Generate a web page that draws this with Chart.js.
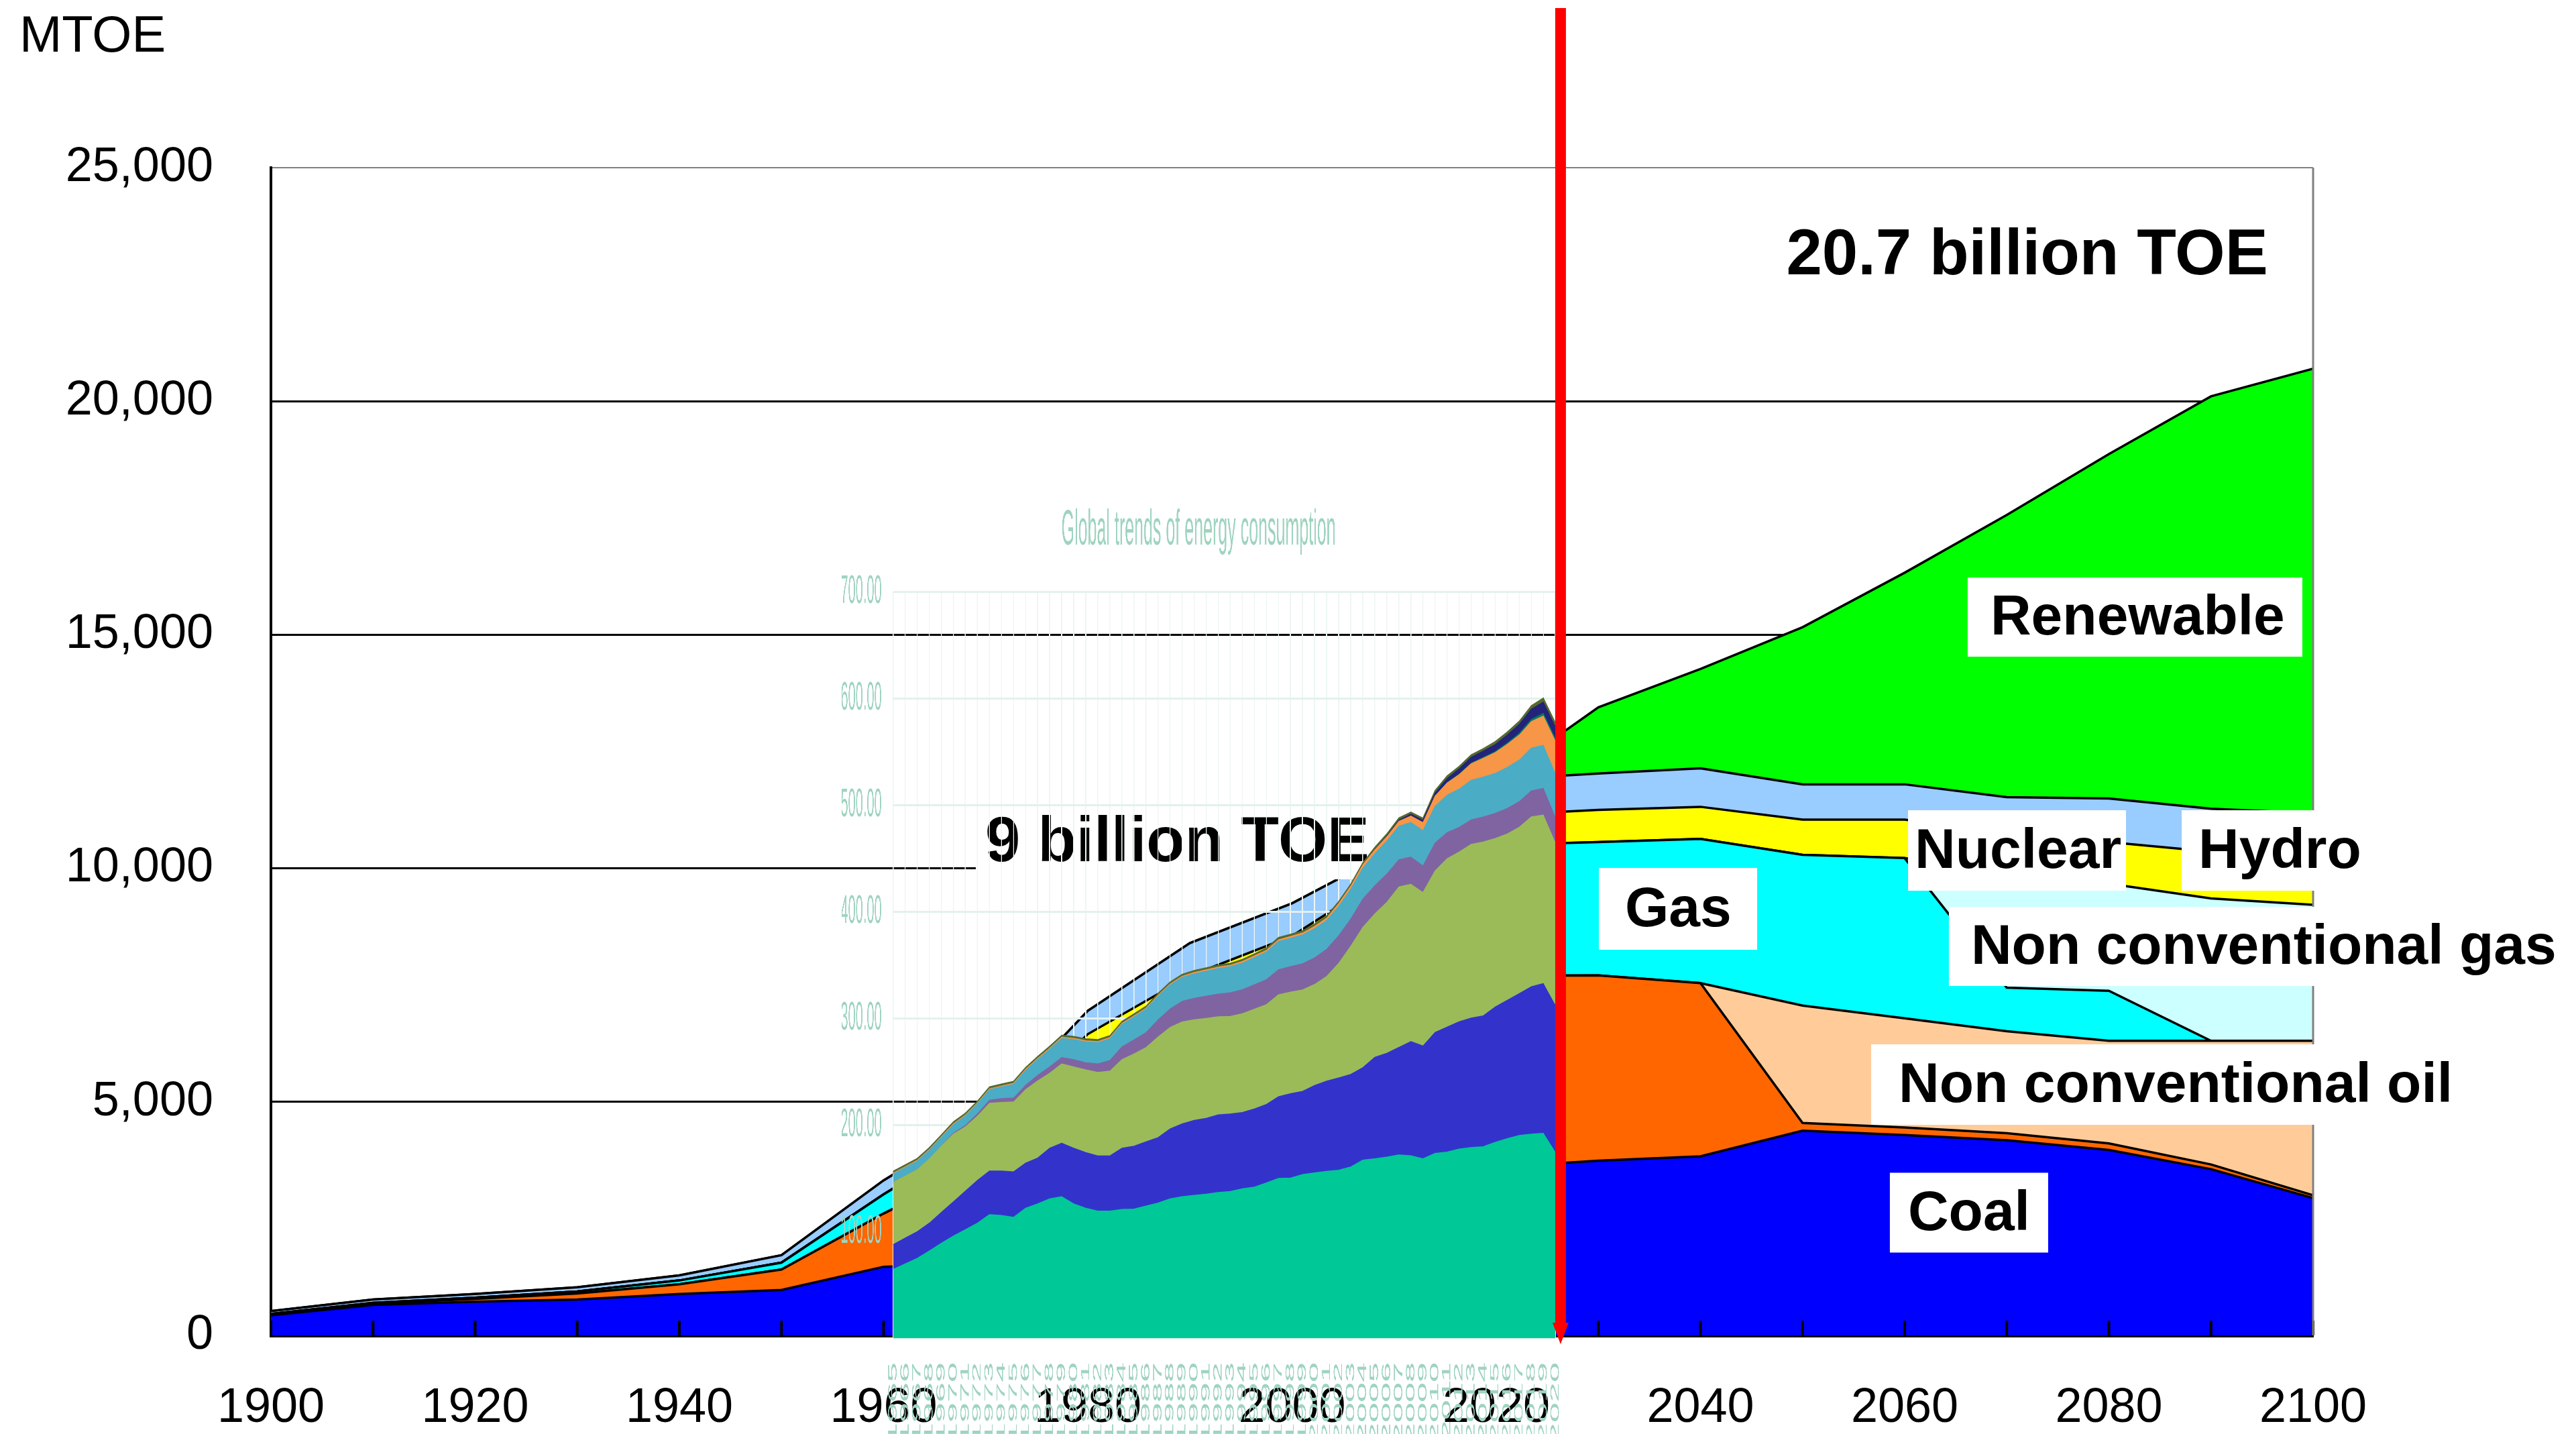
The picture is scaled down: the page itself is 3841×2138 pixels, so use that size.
<!DOCTYPE html>
<html>
<head>
<meta charset="utf-8">
<script src="https://cdn.jsdelivr.net/npm/chart.js@4.4.1/dist/chart.umd.min.js"></script>
<style>
  html, body { margin: 0; padding: 0; background: #fff; overflow: hidden; }
  #page { position: relative; width: 3841px; height: 2138px; overflow: hidden; }
  #mainBox { position: absolute; left: 0; top: 0; width: 3841px; height: 2138px; z-index: 1; }
  #insetBox { position: absolute; left: 1255.4px; top: 700px; width: 1103.2px; height: 480px;
              transform: scaleY(3); transform-origin: 0 0; z-index: 2; }
  #marker { position: absolute; left: 0; top: 0; z-index: 3; pointer-events: none; }
</style>
</head>
<body>
<div id="page">
  <div id="mainBox"><canvas id="mainChart"></canvas></div>
  <div id="insetBox"><canvas id="insetChart"></canvas></div>
  <svg id="marker" width="3841" height="2138"><polygon id="redArrow" fill="#ff0000"></polygon></svg>
</div>
<script>
const FONT = "'Liberation Sans', Arial, Helvetica, sans-serif";

// ---- main chart, MTOE ----
const years = [1900, 1910, 1920, 1930, 1940, 1950, 1960, 1970, 1980, 1990, 2000, 2010, 2020,
  2030, 2040, 2050, 2060, 2070, 2080, 2090, 2100];
const coal = [430, 652, 722, 769, 886, 973, 1470, 1550, 1800, 2200, 2300, 3100, 3600,
  3740, 3835, 4384, 4290, 4180, 3970, 3560, 2940];
const oil = [15, 25, 60, 130, 210, 438, 1139, 2150, 3000, 3150, 3550, 3800, 4100,
  3967, 3707, 165, 160, 150, 140, 100, 60];
const nonConvOil = [0, 0, 0, 0, 0, 0, 0, 0, 0, 0, 0, 0, 0,
  0, 0, 2512, 2337, 2182, 2196, 2646, 3306];
const gas = [15, 20, 25, 40, 80, 147, 409, 650, 1250, 1700, 2050, 2400, 2800,
  2855, 3089, 3227, 3432, 934, 1071, 0, 0];
const nonConvGas = [0, 0, 0, 0, 0, 0, 0, 0, 0, 0, 0, 0, 0,
  0, 0, 0, 0, 2430, 2293, 3048, 2911];
const nuclear = [0, 0, 0, 0, 0, 0, 0, 20, 400, 650, 650, 650, 640,
  687, 686, 755, 824, 893, 892, 1003, 934];
const hydro = [60, 70, 80, 90, 110, 160, 300, 280, 500, 700, 700, 450, 760,
  782, 824, 755, 755, 754, 934, 920, 1029];
const renewable = [0, 0, 0, 0, 0, 0, 0, 0, 0, 0, 0, 0, 0,
  1415, 2128, 3364, 4531, 6042, 7373, 8828, 9515];

const mainSeries = [coal, oil, nonConvOil, gas, nonConvGas, nuclear, hydro, renewable];
const mainNames = ["Coal", "Oil", "Non conventional oil", "Gas", "Non conventional gas", "Nuclear", "Hydro", "Renewable"];
const mainColors = ["#0000ff", "#ff6600", "#ffcc99", "#00ffff", "#ccffff", "#ffff00", "#99ccff", "#00ff00"];

// ---- inset chart (its own units) ----
const insetYears = ["1965", "1966", "1967", "1968", "1969", "1970", "1971", "1972", "1973", "1974",
  "1975", "1976", "1977", "1978", "1979", "1980", "1981", "1982", "1983", "1984",
  "1985", "1986", "1987", "1988", "1989", "1990", "1991", "1992", "1993", "1994",
  "1995", "1996", "1997", "1998", "1999", "2000", "2001", "2002", "2003", "2004",
  "2005", "2006", "2007", "2008", "2009", "2010", "2011", "2012", "2013", "2014",
  "2015", "2016", "2017", "2018", "2019", "2020"];
const insetOil = [63.9, 69.1, 74.3, 81.1, 88.4, 95.2, 101.2, 107.2, 115.3, 114.5,
  112.8, 121.3, 125.3, 130.1, 132.1, 125.3, 121.3, 118.5, 118.5, 120.1,
  120.5, 123.3, 126.1, 130.1, 132.1, 133.3, 134.5, 136.1, 137.0, 139.5,
  141.0, 145.0, 149.2, 149.5, 152.8, 154.5, 155.8, 157.0, 160.0, 166.3,
  167.6, 169.2, 171.3, 170.5, 167.6, 172.6, 173.9, 176.8, 178.1, 178.9,
  183.1, 186.5, 189.5, 190.7, 191.6, 173.5];
const insetGas = [23.2, 24.1, 24.9, 26.1, 28.9, 32.1, 36.1, 40.2, 40.9, 41.7,
  42.6, 42.2, 43.0, 47.4, 50.2, 52.2, 52.2, 51.8, 51.8, 57.4,
  59.0, 60.2, 61.4, 65.5, 68.3, 70.3, 71.1, 72.7, 72.6, 71.5,
  73.4, 73.6, 76.6, 79.2, 78.0, 81.8, 84.7, 86.5, 86.8, 86.8,
  95.2, 97.4, 100.8, 107.1, 105.8, 113.4, 117.1, 119.3, 121.4, 122.7,
  126.9, 129.8, 133.1, 138.3, 140.3, 137.8];
const insetCoal = [58.3, 58.2, 58.2, 60.3, 62.2, 63.5, 60.3, 60.2, 63.5, 64.3,
  65.5, 69.0, 72.3, 70.3, 74.3, 76.3, 77.5, 78.3, 79.5, 83.1,
  86.4, 88.4, 94.4, 95.2, 95.6, 94.4, 93.6, 92.0, 91.6, 92.7,
  93.5, 93.5, 95.6, 95.2, 95.2, 94.8, 98.1, 107.4, 120.1, 131.5,
  134.4, 141.5, 150.4, 147.4, 144.0, 151.6, 158.0, 159.2, 163.0, 163.0,
  158.0, 155.9, 155.9, 159.2, 158.0, 152.4];
const insetNuclear = [0, 0, 0, 0, 0, 0.8, 1.2, 2.0, 2.8, 3.6,
  3.6, 4.0, 5.2, 6.0, 6.0, 6.8, 6.8, 8.0, 10.0, 12.0,
  13.3, 14.0, 16.0, 17.3, 19.3, 20.1, 20.9, 21.3, 22.1, 22.5,
  23.0, 23.5, 23.5, 24.0, 24.5, 25.0, 25.5, 26.0, 25.5, 26.5,
  26.5, 26.5, 25.5, 25.5, 25.0, 26.0, 24.5, 23.0, 23.0, 23.5,
  23.5, 24.0, 24.0, 24.5, 25.0, 24.0];
const insetHydro = [8, 8, 8, 8, 8, 8, 9, 9.5, 10, 11,
  13, 14, 15, 16.5, 18, 19, 19.5, 20, 20.5, 21,
  21.5, 22, 22, 22.5, 22.5, 23, 23.5, 24, 24.5, 25,
  25.5, 26, 26.5, 26.5, 27, 27.5, 27, 27.5, 28, 29,
  30, 31, 31.5, 32.5, 33, 34.5, 35, 36, 37, 37.5,
  37.5, 38.5, 39, 40, 40.5, 41];
const insetRenew = [0.3, 0.3, 0.3, 0.3, 0.3, 0.3, 0.3, 0.3, 0.3, 0.3,
  0.5, 0.5, 0.5, 0.5, 0.5, 0.5, 0.5, 0.5, 0.5, 0.5,
  0.5, 0.5, 0.5, 0.5, 0.5, 0.8, 0.8, 0.8, 0.8, 1.0,
  1.0, 1.0, 1.2, 1.2, 1.4, 1.5, 1.7, 2.0, 2.2, 2.5,
  3.0, 3.5, 4.0, 5.5, 7.0, 9.0, 11.0, 13.0, 15.0, 17.0,
  19.0, 21.0, 23.0, 24.5, 27.0, 30.0];
const insetBio = [0.2, 0.2, 0.2, 0.2, 0.2, 0.2, 0.2, 0.2, 0.2, 0.2,
  0.2, 0.2, 0.2, 0.2, 0.2, 0.2, 0.2, 0.2, 0.2, 0.2,
  0.2, 0.2, 0.2, 0.2, 0.2, 0.2, 0.2, 0.2, 0.2, 0.2,
  0.2, 0.2, 0.2, 0.2, 0.2, 0.2, 0.2, 0.2, 0.2, 0.2,
  0.2, 0.2, 0.2, 0.2, 0.2, 0.5, 0.7, 0.9, 1.1, 1.3,
  1.5, 1.8, 2.1, 2.5, 3.0, 3.0];
const insetSolar = [0, 0, 0, 0, 0, 0, 0, 0, 0, 0,
  0, 0, 0, 0, 0, 0, 0, 0, 0, 0,
  0, 0, 0, 0, 0, 0, 0, 0, 0, 0,
  0, 0.3, 0.3, 0.3, 0.3, 0.3, 0.3, 0.3, 0.3, 0.3,
  0.8, 1.0, 1.5, 2.0, 2.5, 3.0, 4.0, 5.0, 5.5, 6.0,
  6.5, 7.5, 8.5, 9.5, 10.5, 11.0];
const insetOther = [1.2, 1.2, 1.2, 1.2, 1.2, 1.2, 1.2, 1.2, 1.2, 1.2,
  1.2, 1.2, 1.2, 1.2, 1.2, 1.2, 1.2, 1.2, 1.2, 1.2,
  1.2, 1.2, 1.2, 1.2, 1.2, 1.2, 1.2, 1.2, 1.2, 1.2,
  1.2, 1.2, 1.2, 1.2, 1.2, 1.2, 1.2, 1.2, 1.2, 1.2,
  1.2, 1.2, 1.2, 1.2, 1.2, 1.5, 1.5, 1.5, 1.5, 1.5,
  2.0, 2.0, 2.0, 2.5, 3.0, 3.0];

const insetSeries = [insetOil, insetGas, insetCoal, insetNuclear, insetHydro, insetRenew, insetBio, insetSolar, insetOther];
const insetColors = ["#00c896", "#3333cc", "#9bbb59", "#8064a2", "#4bacc6", "#f79646", "#007a62", "#23237a", "#556b2f"];
const insetTickColor = "#9fd4bf";

// annotations: anchored at (year, value) of the main chart
const labelBoxes = [
  { text: "Renewable", year: 2066.17, value: 15378, w: 499, h: 118, pad: 34, size: 84, box: true },
  { text: "Nuclear", year: 2060.33, value: 10382, w: 325, h: 120, pad: 10, size: 84, box: true },
  { text: "Hydro", year: 2087.13, value: 10382, w: 290, h: 120, pad: 25, size: 84, box: true },
  { text: "Gas", year: 2030.05, value: 9132, w: 236, h: 122, pad: 39, size: 84, box: true },
  { text: "Non conventional gas", year: 2064.33, value: 8328, w: 935, h: 118, pad: 33, size: 84, box: true },
  { text: "Non conventional oil", year: 2056.72, value: 5370, w: 890, h: 120, pad: 41, size: 84, box: true },
  { text: "Coal", year: 2058.55, value: 2628, w: 236, h: 119, pad: 27, size: 84, box: true },
  { text: "9 billion TOE", year: 1969.03, value: 10568, w: 597, h: 112, pad: 14, size: 94, box: true },
  { text: "20.7 billion TOE", year: 2048.4, value: 23133, w: 0, h: 0, pad: 0, size: 96, box: false },
];
const markerYear = 2026.3;

const mainPlugin = {
  id: "mainDecor",
  afterDatasetsDraw(chart) {
    const ctx = chart.ctx;
    const xs = chart.scales.x;
    const area = chart.chartArea;
    ctx.save();
    // inward tick marks on the bottom axis
    ctx.strokeStyle = "#000";
    ctx.lineWidth = 4;
    xs.ticks.forEach((t) => {
      const px = xs.getPixelForValue(t.value);
      ctx.beginPath();
      ctx.moveTo(px, area.bottom);
      ctx.lineTo(px, area.bottom - 22);
      ctx.stroke();
    });
    // right frame
    ctx.strokeStyle = "#808080";
    ctx.lineWidth = 3;
    ctx.beginPath();
    ctx.moveTo(area.right, area.top);
    ctx.lineTo(area.right, area.bottom);
    ctx.stroke();
    // label boxes
    labelBoxes.forEach((lb) => {
      const px = xs.getPixelForValue(lb.year);
      const py = chart.scales.y.getPixelForValue(lb.value);
      if (lb.box) {
        ctx.fillStyle = "#fff";
        ctx.fillRect(px, py - lb.h / 2, lb.w, lb.h);
      }
      ctx.fillStyle = "#000";
      ctx.font = "bold " + lb.size + "px " + FONT;
      ctx.textAlign = "left";
      ctx.textBaseline = "middle";
      ctx.fillText(lb.text, px + lb.pad, py + 3);
    });
    // unit
    ctx.font = "76px " + FONT;
    ctx.fillStyle = "#000";
    ctx.textAlign = "left";
    ctx.textBaseline = "middle";
    ctx.fillText("MTOE", 29, 56);
    ctx.restore();
  },
};

const mainChart = new Chart(document.getElementById("mainChart"), {
  type: "line",
  data: {
    datasets: mainSeries.map((arr, i) => ({
      label: mainNames[i],
      data: years.map((yr, j) => ({ x: yr, y: arr[j] })),
      backgroundColor: mainColors[i],
      borderColor: "#000",
      borderWidth: 3.5,
      fill: i === 0 ? "origin" : "-1",
      pointRadius: 0,
      tension: 0,
    })),
  },
  options: {
    responsive: true,
    maintainAspectRatio: false,
    animation: false,
    layout: { padding: { left: 0, top: 250, right: 392, bottom: 0 } },
    plugins: { legend: { display: false }, tooltip: { enabled: false } },
    scales: {
      x: {
        type: "linear",
        min: 1900,
        max: 2100,
        ticks: {
          stepSize: 10,
          autoSkip: false,
          maxRotation: 0,
          padding: 66,
          color: "#000",
          font: { size: 72, family: FONT },
          callback: (v) => (v % 20 === 0 ? String(v) : ""),
        },
        grid: { display: false, drawTicks: false },
        border: { display: true, color: "#000", width: 5 },
        afterFit: (s) => { s.height = 147; },
      },
      y: {
        stacked: true,
        min: 0,
        max: 25000,
        ticks: {
          stepSize: 5000,
          padding: 86,
          color: "#000",
          font: { size: 72, family: FONT },
          callback: (v) => v.toLocaleString("en-US"),
        },
        grid: {
          drawTicks: false,
          color: (c) => (c.tick && c.tick.value === 25000 ? "#808080" : "#000"),
          lineWidth: (c) => (c.tick && c.tick.value === 25000 ? 2 : 3),
        },
        border: { display: true, color: "#000", width: 4 },
        afterFit: (s) => { s.width = 404; },
      },
    },
  },
  plugins: [mainPlugin],
});

const insetChart = new Chart(document.getElementById("insetChart"), {
  type: "line",
  data: {
    labels: insetYears,
    datasets: insetSeries.map((arr, i) => ({
      data: arr,
      backgroundColor: insetColors[i],
      borderColor: insetColors[i],
      borderWidth: i === 5 ? 1.5 : i === 8 ? 2 : 1,
      fill: i === 0 ? "origin" : "-1",
      pointRadius: 0,
      tension: 0,
    })),
  },
  options: {
    responsive: true,
    maintainAspectRatio: false,
    animation: false,
    devicePixelRatio: 3,
    layout: { padding: { left: 0, right: 40, top: 0, bottom: 0 } },
    plugins: {
      legend: { display: false },
      tooltip: { enabled: false },
      title: {
        display: true,
        text: "Global trends of energy consumption",
        color: insetTickColor,
        font: { size: 25, family: FONT, weight: "normal" },
        padding: { top: 15.3, bottom: 15.4 },
      },
    },
    scales: {
      x: {
        ticks: {
          color: insetTickColor,
          font: { size: 18, family: FONT },
          minRotation: 90,
          maxRotation: 90,
          autoSkip: false,
          padding: 12,
        },
        grid: { color: "#edf6f3", lineWidth: 1.5, drawTicks: false },
        border: { display: false },
        afterFit: (s) => { s.height = 48.33; },
      },
      y: {
        stacked: true,
        min: 0,
        max: 700,
        ticks: {
          stepSize: 100,
          color: insetTickColor,
          font: { size: 20, family: FONT },
          padding: 17,
          callback: (v) => (v === 0 ? "" : v.toFixed(2)),
        },
        grid: { color: "#e3f1ed", lineWidth: 1, drawTicks: false },
        border: { display: false },
        afterFit: (s) => { s.width = 76.6; },
      },
    },
  },
});

// present-day marker placed through the main x scale
const mx = mainChart.scales.x.getPixelForValue(markerYear);
const pts = [
  [mx - 8, 12], [mx + 8, 12], [mx + 8, 1972], [mx + 12, 1972],
  [mx, 2004], [mx - 12, 1972], [mx - 8, 1972],
];
document.getElementById("redArrow").setAttribute("points", pts.map((p) => p.join(",")).join(" "));
</script>
</body>
</html>
